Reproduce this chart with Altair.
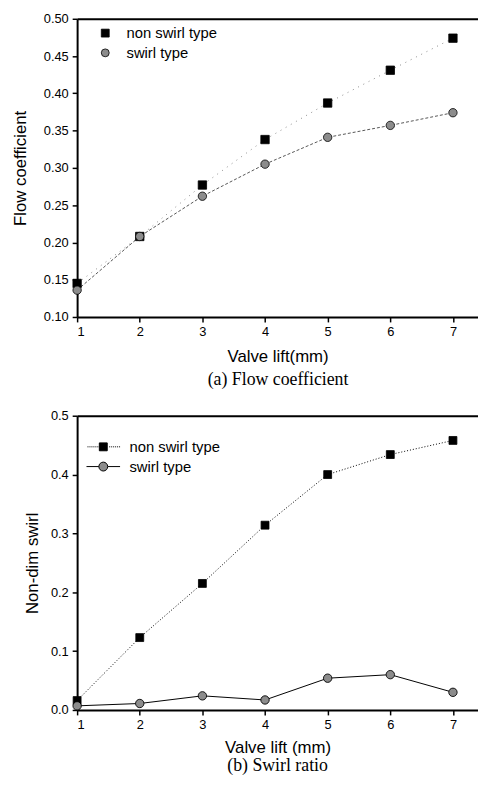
import altair as alt
import pandas as pd

lift = [1, 2, 3, 4, 5, 6, 7]
series_names = ["non swirl type", "swirl type"]

flow_non_swirl = [0.145, 0.208, 0.277, 0.338, 0.387, 0.431, 0.474]
flow_swirl = [0.136, 0.208, 0.262, 0.305, 0.341, 0.357, 0.374]

swirl_non_swirl = [0.016, 0.123, 0.215, 0.314, 0.400, 0.434, 0.458]
swirl_swirl = [0.007, 0.011, 0.024, 0.017, 0.054, 0.060, 0.030]

flow_ticks = [0.10, 0.15, 0.20, 0.25, 0.30, 0.35, 0.40, 0.45, 0.50]
swirl_ticks = [0.0, 0.1, 0.2, 0.3, 0.4, 0.5]


def long_df(a, b):
    rows = []
    for x, v in zip(lift, a):
        rows.append({"lift": x, "value": v, "series": series_names[0]})
    for x, v in zip(lift, b):
        rows.append({"lift": x, "value": v, "series": series_names[1]})
    return pd.DataFrame(rows)


df_a = long_df(flow_non_swirl, flow_swirl)
df_b = long_df(swirl_non_swirl, swirl_swirl)

# layout: two panels stacked inside one plot area
W = 406
PHA = 302         # height of panel (a)
PHB = 298         # height of panel (b)
GAP = 100         # distance between bottom of panel (a) and top of panel (b)
TOPB = PHA + GAP
H = TOPB + PHB
FONT = "Liberation Sans"
SERIF = "Liberation Serif"

xscale = alt.Scale(domain=[1, 7.4], nice=False, zero=False)
ya_scale = alt.Scale(domain=[0.1, 0.5], range=[PHA, 0], nice=False, zero=False)
yb_scale = alt.Scale(domain=[0.0, 0.5], range=[H, TOPB], nice=False, zero=False)

x_none = alt.X("lift:Q", scale=xscale, axis=None)
ya_none = alt.Y("value:Q", scale=ya_scale, axis=None)
yb_none = alt.Y("value:Q", scale=yb_scale, axis=None)


def x_bottom(title, offset, tpad):
    return alt.X("lift:Q", scale=xscale,
                 axis=alt.Axis(values=lift, format="d", title=title, orient="bottom",
                               offset=offset, titlePadding=tpad, labelPadding=4))


stroke_black = alt.Scale(domain=series_names, range=["black", "black"])

# ---------- panel (a) ----------
base_a = alt.Chart(df_a)
lines_a = base_a.mark_line(strokeWidth=1).encode(
    x=x_bottom("Valve lift(mm)", -(H - PHA), 10),
    y=alt.Y("value:Q", scale=ya_scale,
            axis=alt.Axis(values=flow_ticks, format=".2f", title="Flow coefficient",
                          orient="left", titlePadding=14)),
    strokeDash=alt.StrokeDash("series:N", scale=alt.Scale(domain=series_names, range=[[1, 5], [3, 2]]), legend=None),
    color=alt.Color("series:N", scale=alt.Scale(domain=series_names, range=["#8a8a8a", "#555555"]), legend=None),
)
leg_a = alt.Legend(title=None, orient="none", legendX=21, legendY=7,
                   symbolSize=64, labelFontSize=15, labelFont=FONT,
                   labelColor="black", labelOffset=14, rowPadding=4,
                   padding=0, symbolStrokeColor="black", symbolStrokeWidth=0.8, symbolOpacity=1)
pts_a = base_a.mark_point(filled=True, size=72, strokeWidth=0.8, opacity=1).encode(
    x=x_none, y=ya_none,
    shape=alt.Shape("series:N", scale=alt.Scale(domain=series_names, range=["square", "circle"]), legend=leg_a),
    fill=alt.Fill("series:N", scale=alt.Scale(domain=series_names, range=["black", "#8c8c8c"]), legend=leg_a),
    stroke=alt.Stroke("series:N", scale=stroke_black, legend=leg_a),
)
top_a = base_a.mark_point(opacity=0).encode(
    x=alt.X("lift:Q", scale=xscale, axis=alt.Axis(orient="top", labels=False, ticks=False, title=None)),
    y=ya_none,
)

# ---------- panel (b) ----------
base_b = alt.Chart(df_b)
ns = alt.datum.series == series_names[0]
sw = alt.datum.series == series_names[1]
line_ns = base_b.transform_filter(ns).mark_line(strokeWidth=1, strokeDash=[1, 2], color="black").encode(
    x=x_bottom("Valve lift (mm)", 0, 8),
    y=alt.Y("value:Q", scale=yb_scale,
            axis=alt.Axis(values=swirl_ticks, format=".1f", title="Non-dim swirl",
                          orient="left", titlePadding=9)),
)
line_s = base_b.transform_filter(sw).mark_line(strokeWidth=1, color="black").encode(x=x_none, y=yb_none)
pts_ns = base_b.transform_filter(ns).mark_point(
    shape="square", filled=True, size=64, fill="black", stroke="black", strokeWidth=0.8, opacity=1
).encode(x=x_none, y=yb_none)
pts_s = base_b.transform_filter(sw).mark_point(
    shape="circle", filled=True, size=72, fill="#8c8c8c", stroke="black", strokeWidth=0.9, opacity=1
).encode(x=x_none, y=yb_none)
top_b = base_b.mark_point(opacity=0).encode(
    x=alt.X("lift:Q", scale=xscale,
            axis=alt.Axis(orient="top", labels=False, ticks=False, offset=-TOPB,
                          title="(a) Flow coefficient", titleFont=SERIF, titleFontSize=18,
                          titleBaseline="middle", titleY=-37)),
    y=yb_none,
)

# legend symbols for (b): line + marker as custom paths (1 unit = 5px)
dots = "".join(f"M{x:.2f},0H{x + 0.2:.2f}" for x in [-3.2, -2.8, -2.4, -2.0, -1.6, -1.2, 1.2, 1.6, 2.0, 2.4, 2.8, 3.2])
path_ns = "M-0.8,-0.8H0.8V0.8H-0.8Z" + dots
path_s = "M-3.4,0H-0.9M0.9,0H3.4M0.9,0A0.9,0.9 0 1,1 -0.9,0A0.9,0.9 0 1,1 0.9,0Z"

leg_b = alt.Legend(title=None, orient="none", legendX=19, legendY=TOPB + 24,
                   symbolSize=100, labelFontSize=15, labelFont=FONT, labelColor="black",
                   labelOffset=19, rowPadding=4, padding=0, symbolStrokeColor="black",
                   symbolStrokeWidth=1, symbolOpacity=1)
legend_b = base_b.transform_filter("false").mark_point(
    filled=True, size=100, opacity=1).encode(
    shape=alt.Shape("series:N", scale=alt.Scale(domain=series_names, range=[path_ns, path_s]), legend=leg_b),
    fill=alt.Fill("series:N", scale=alt.Scale(domain=series_names, range=["black", "#8c8c8c"]), legend=leg_b),
    stroke=alt.Stroke("series:N", scale=stroke_black, legend=leg_b),
)

chart = alt.layer(
    lines_a, pts_a, top_a, line_ns, line_s, pts_ns, pts_s, top_b, legend_b
).resolve_scale(
    x="independent", y="independent", shape="independent", fill="independent", stroke="independent"
).resolve_axis(
    x="independent", y="independent"
).resolve_legend(
    shape="independent", fill="independent", stroke="independent"
).properties(
    width=W, height=H,
    padding={"left": 3, "top": 0, "right": 0, "bottom": 0},
    title=alt.TitleParams("(b) Swirl ratio", orient="bottom", font=SERIF, fontSize=18,
                          fontWeight="normal", color="black", anchor="middle", frame="group", offset=2),
).configure_view(stroke=None).configure_axis(
    grid=False, domainColor="black", domainWidth=2, tickColor="black", tickSize=5, tickWidth=1.5,
    labelFont=FONT, labelFontSize=13, labelColor="black", labelPadding=4,
    titleFont=FONT, titleFontSize=17, titleFontWeight="normal", titleColor="black",
)

chart.save("out.html", embed_options={"renderer": "svg", "actions": False})
